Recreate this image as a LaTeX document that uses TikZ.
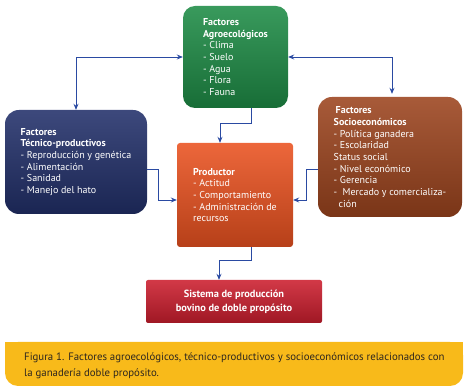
\documentclass[tikz,border=0pt]{standalone}
\usepackage{fontspec}
\setmainfont{PT Sans}
\usetikzlibrary{positioning,calc,arrows.meta}
\definecolor{AgroGreen}{RGB}{30,140,70}
\definecolor{TecBlue}{RGB}{34,48,106}
\definecolor{SocioBrown}{RGB}{156,68,30}
\definecolor{ProdOrange}{RGB}{234,82,32}
\definecolor{SysRed}{RGB}{204,30,46}
\definecolor{CapYellow}{RGB}{248,186,26}
\definecolor{LinkBlue}{RGB}{42,74,162}
\definecolor{CapText}{RGB}{45,38,30}
\tikzset{
  box/.style={align=left,text=white,inner sep=0pt,
    font=\fontsize{10}{11.7}\selectfont},
  shade3/.style={top color=#1!88!white,middle color=#1,bottom color=#1!78!black},
  conn/.style={draw=LinkBlue,line width=0.9pt},
  tipped/.style={-{Stealth[length=6pt,width=5pt]}},
  captext/.style={align=left,text=CapText,inner sep=0pt,
    font=\fontsize{10.8}{16}\selectfont},
}
\begin{document}
\begin{tikzpicture}[x=1pt,y=-1pt]
  \useasboundingbox (0,0) rectangle (467,390);

  % the five blocks
  \node[box,shade3=AgroGreen,rounded corners=12pt,
    minimum width=105pt,minimum height=102pt] (agro) at (235.5,57)
    {\textbf{Factores}\\\textbf{Agroecológicos}\\- Clima\\- Suelo\\- Agua\\- Flora\\- Fauna};
  \node[box,shade3=TecBlue,rounded corners=14pt,
    minimum width=142pt,minimum height=104pt] (tecnico) at (76,162)
    {\textbf{Factores}\\\textbf{Técnico-productivos}\\- Reproducción y genética\\- Alimentación\\- Sanidad\\- Manejo del hato};
  \node[box,shade3=SocioBrown,rounded corners=14pt,
    minimum width=144pt,minimum height=120pt] (socio) at (390,157)
    {\hspace*{2pt}\textbf{Factores}\\\textbf{Socioeconómicos}\\- Política ganadera\\- Escolaridad\\Status social\\- Nivel económico\\- Gerencia\\- \ Mercado y comercializa-\\\hspace*{5pt}ción};
  \node[box,shade3=ProdOrange,rounded corners=3pt,
    minimum width=116pt,minimum height=104pt] (prod) at (235,195)
    {\textbf{Productor}\\- Actitud\\- Comportamiento\\- Administración de\\recursos};
  \node[box,shade3=SysRed,rounded corners=2pt,align=center,
    font=\bfseries\fontsize{10.4}{14.3}\selectfont,
    minimum width=176pt,minimum height=43pt] (sistema) at (234,301.5)
    {Sistema de producción\\bovino de doble propósito};

  % caption band
  \fill[CapYellow,rounded corners=13pt] (5,342) rectangle (463,386);
  \fill[CapYellow] (5,342) rectangle (463,362);
  \node[captext,anchor=west] (caption) at (24,366)
    {Figura 1. Factores agroecológicos, técnico-productivos y socioeconómicos relacionados con\\la ganadería doble propósito.};

  % connectors
  \draw[conn,{Stealth[length=6pt,width=5pt]}-{Stealth[length=6pt,width=5pt]}]
    (agro.west) -| (tecnico.north);
  \draw[conn,{Stealth[length=6pt,width=5pt]}-{Stealth[length=6pt,width=5pt]}]
    (agro.east) -| ([xshift=2pt,yshift=3pt]socio.north);
  \draw[conn,tipped] ([xshift=16pt]agro.south) -- ++(0,15) -| ([xshift=-15pt]prod.north);
  \draw[conn,tipped] ([yshift=-7pt]tecnico.east) -- ++(11,0) |- ([yshift=-5pt]prod.west);
  \draw[conn,tipped] ([yshift=-12pt]socio.west) -- ++(-11,0) |- ([yshift=-5pt]prod.east);
  \draw[conn,tipped] ([xshift=16pt]prod.south) -- ++(0,13) -| ([xshift=-15pt]sistema.north);
\end{tikzpicture}
\end{document}
